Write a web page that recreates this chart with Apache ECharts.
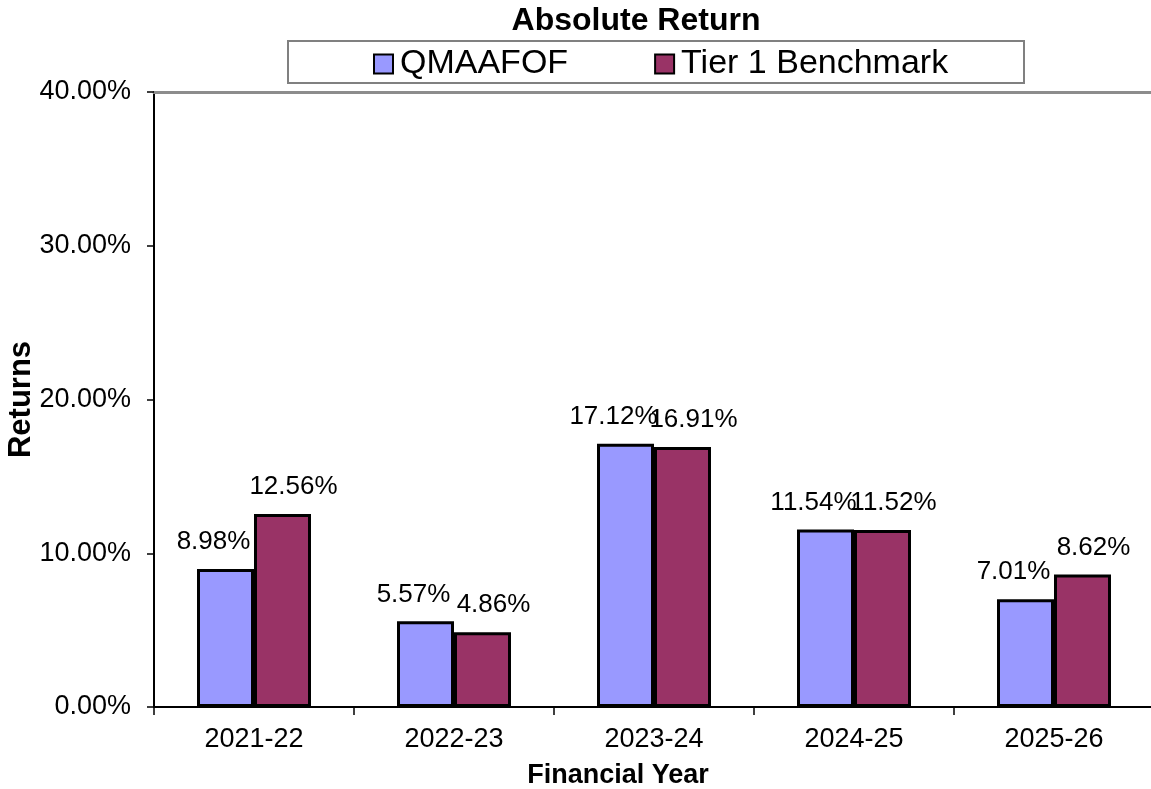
<!DOCTYPE html>
<html>
<head>
<meta charset="utf-8">
<script src="https://cdn.jsdelivr.net/npm/echarts@6/dist/echarts.min.js"></script>
<style>
	html, body { margin: 0; padding: 0; background: #fff; }
	#chart { width: 1151px; height: 789px; }
</style>
</head>
<body>
<div id="chart"></div>
<script>
// 数据
var years = ['2021-22', '2022-23', '2023-24', '2024-25', '2025-26'];
var fundName = 'QMAAFOF';
var benchName = 'Tier 1 Benchmark';
var fundReturns = [8.98, 5.57, 17.12, 11.54, 7.01];
var benchReturns = [12.56, 4.86, 16.91, 11.52, 8.62];
var yTicks = [0, 10, 20, 30, 40];

var font = '"Liberation Sans", Arial, sans-serif';

var chart = echarts.init(document.getElementById('chart'));

function pct(p) {
	return p.value.toFixed(2) + '%';
}

chart.setOption({
	animation: false,
	title: [{
		text: 'Absolute Return',
		left: 631,
		top: 0,
		textAlign: 'center',
		textStyle: { fontFamily: font, fontSize: 32, fontWeight: 'bold', color: '#000' }
	}, {
		text: 'Financial Year',
		left: 613,
		top: 757,
		textAlign: 'center',
		textStyle: { fontFamily: font, fontSize: 27, fontWeight: 'bold', color: '#000' }
	}],
	graphic: [{
		type: 'rect',
		shape: { x: 288, y: 41, width: 736, height: 42 },
		style: { fill: '#fff', stroke: '#808080', lineWidth: 2 },
		z: 0
	}],
	legend: {
		left: 368,
		top: 42,
		icon: 'rect',
		itemWidth: 19,
		itemHeight: 19,
		itemGap: 86,
		textStyle: { fontFamily: font, fontSize: 34, color: '#000', padding: [0, 0, 0, 2] },
		data: [fundName, benchName],
		z: 5
	},
	grid: {
		left: 154,
		top: 92,
		width: 1000,
		bottom: 82,
		containLabel: false,
		outerBoundsMode: 'none'
	},
	xAxis: [{
		type: 'category',
		data: years,
		axisLine: { lineStyle: { color: '#000', width: 2 } },
		axisTick: { show: true, length: 8, lineStyle: { color: '#000', width: 1.5 } },
		axisLabel: { fontFamily: font, fontSize: 27, color: '#000', margin: 19 }
	}, {
		type: 'category',
		position: 'top',
		data: years,
		axisLine: { lineStyle: { color: '#8c8c8c', width: 3 } },
		axisTick: { show: false },
		axisLabel: { show: false }
	}],
	yAxis: {
		type: 'value',
		min: 0,
		max: yTicks[yTicks.length - 1],
		interval: yTicks[1] - yTicks[0],
		name: 'Returns',
		nameLocation: 'middle',
		nameGap: 117,
		nameMoveOverlap: false,
		nameTextStyle: { fontFamily: font, fontSize: 31, fontWeight: 'bold', color: '#000' },
		axisLine: { show: true, lineStyle: { color: '#000', width: 2 } },
		axisTick: { show: true, length: 7, lineStyle: { color: '#000', width: 1.5 } },
		axisLabel: {
			fontFamily: font, fontSize: 27, color: '#000', margin: 23,
			formatter: function(v) { return v.toFixed(2) + '%'; }
		},
		splitLine: { show: false }
	},
	series: [{
		name: fundName,
		type: 'bar',
		data: fundReturns,
		barWidth: 57,
		barGap: '0%',
		itemStyle: { color: '#9999ff', borderColor: '#000', borderWidth: 3 },
		label: {
			show: true, position: 'top', distance: 14, offset: [-12, 0],
			fontFamily: font, fontSize: 26, color: '#000',
			formatter: pct
		}
	}, {
		name: benchName,
		type: 'bar',
		data: benchReturns,
		barWidth: 57,
		barGap: '0%',
		itemStyle: { color: '#993366', borderColor: '#000', borderWidth: 3 },
		label: {
			show: true, position: 'top', distance: 14, offset: [11, 0],
			fontFamily: font, fontSize: 26, color: '#000',
			formatter: pct
		}
	}]
});
</script>
</body>
</html>
